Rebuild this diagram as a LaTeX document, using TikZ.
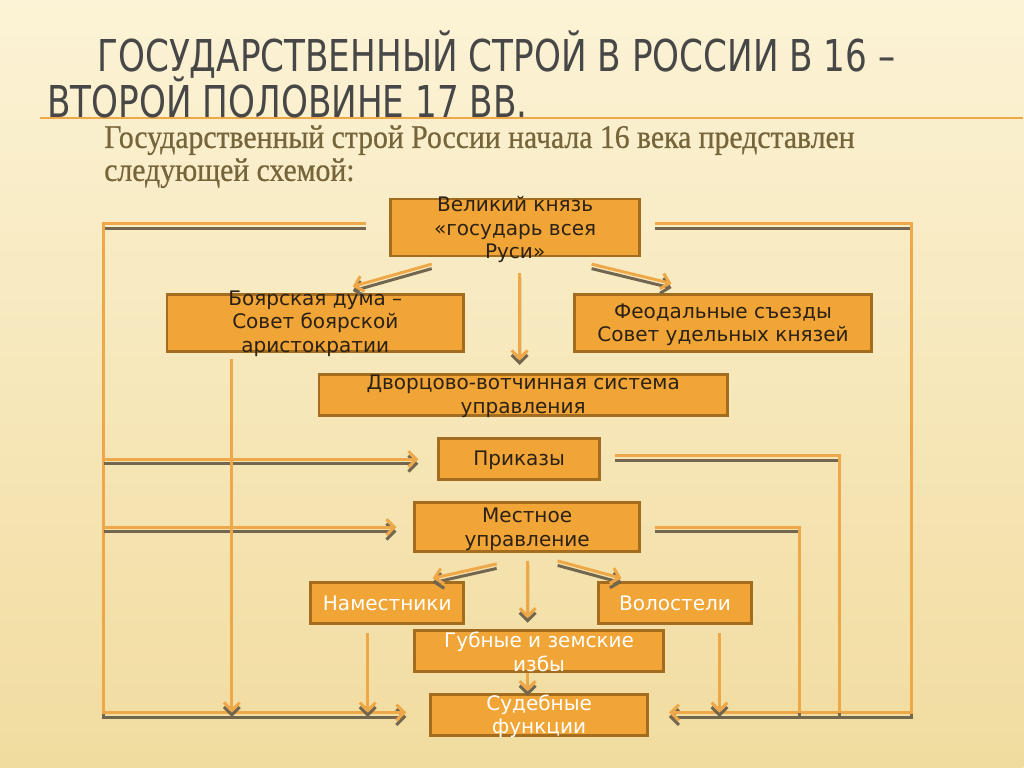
\documentclass[tikz,border=0pt]{standalone}
\usepackage{fontspec}
\setmainfont{DejaVu Sans}
\newfontfamily\titlefont[FakeStretch=0.78]{DejaVu Sans}
\newfontfamily\subfont[FakeStretch=0.9,FakeBold=0.6]{Liberation Serif}
\usetikzlibrary{calc,arrows.meta}
\definecolor{bgtop}{HTML}{FCF3D6}
\definecolor{bgbot}{HTML}{F1DC9F}
\definecolor{boxfill}{HTML}{F0A536}
\definecolor{boxline}{HTML}{A36C1E}
\definecolor{goldln}{HTML}{EFA848}
\definecolor{shadln}{HTML}{72664E}
\definecolor{titlegray}{HTML}{474747}
\definecolor{subbrown}{HTML}{76643A}
\definecolor{darktext}{HTML}{2B2116}
\tikzset{
  box/.style={draw=boxline, line width=1.5pt, fill=boxfill, inner sep=0pt},
  txt/.style={align=center, font=\fontsize{11.4}{13.4}\selectfont, text=darktext, inner sep=0pt},
  wtxt/.style={txt, text=white},
  goldline/.style={draw=goldln, line width=1.7pt},
  shadline/.style={draw=shadln, line width=1.7pt, transform canvas={yshift=-0.09cm}},
}
% double connector: shadow first, then gold line
\newcommand\dline[2][]{\draw[shadline,#1] #2; \draw[goldline,#1] #2;}
\begin{document}
\begin{tikzpicture}[x=0.02cm, y=-0.02cm, >={Straight Barb[length=4.5pt,width=9pt]}]
  \shade[top color=bgtop, bottom color=bgbot] (0,0) rectangle (1024,768);
  \draw[goldln, line width=0.8pt] (40,118) -- (1024,118);
  % titles
  \node[anchor=base west, inner sep=0, text=titlegray, font=\titlefont\fontsize{25}{30}\selectfont] (title1) at (97,72) {ГОСУДАРСТВЕННЫЙ СТРОЙ В РОССИИ В 16 –};
  \node[anchor=base west, inner sep=0, text=titlegray, font=\titlefont\fontsize{25}{30}\selectfont] (title2) at (47,118) {ВТОРОЙ ПОЛОВИНЕ 17 ВВ.};
  \node[anchor=base west, inner sep=0, text=subbrown, font=\subfont\fontsize{18.8}{22}\selectfont] (sub1) at (104,148) {Государственный строй России начала 16 века представлен};
  \node[anchor=base west, inner sep=0, text=subbrown, font=\subfont\fontsize{18.8}{22}\selectfont] (sub2) at (104,181) {следующей схемой:};
  % boxes
  \node[box, minimum width=4.98cm, minimum height=1.14cm] (vk) at (515.5,227.5) {};
  \node[box, minimum width=5.94cm, minimum height=1.14cm] (bd) at (315.5,323.5) {};
  \node[box, minimum width=5.94cm, minimum height=1.14cm] (fs) at (723.5,323.5) {};
  \node[box, minimum width=8.18cm, minimum height=0.82cm] (dv) at (523.5,395.5) {};
  \node[box, minimum width=3.22cm, minimum height=0.82cm] (pr) at (519.5,459.5) {};
  \node[box, minimum width=4.5cm, minimum height=0.98cm] (mu) at (527.5,527.5) {};
  \node[box, minimum width=3.06cm, minimum height=0.82cm] (nm) at (387.5,603.5) {};
  \node[box, minimum width=3.06cm, minimum height=0.82cm] (vl) at (675.5,603.5) {};
  \node[box, minimum width=4.98cm, minimum height=0.82cm] (gz) at (539.5,651.5) {};
  \node[box, minimum width=4.34cm, minimum height=0.82cm] (sf) at (539.5,715.5) {};
  % frame corners
  \coordinate (tl) at (104,224);
  \coordinate (bl) at (104,713);
  \coordinate (tr) at (912,224);
  \coordinate (br) at (912,713);
  \coordinate (r1) at (840,713);
  \coordinate (r2) at (800,713);
  % frame lines
  \dline[->]{($(vk.west)+(-23,-3.5)$) -- (tl) -- (bl) -- ($(sf.west)+(-23,-2.5)$)}
  \dline[->]{($(vk.east)+(14,-3.5)$) -- (tr) -- (br) -- ($(sf.east)+(20,-2.5)$)}
  \dline[->]{(tl |- pr.west) -- ($(pr.west)+(-19,0)$)}
  \dline[->]{(tl |- mu.west) -- ($(mu.west)+(-17,0)$)}
  \dline{($(pr.east)+(14,-3.5)$) -| (r1)}
  \dline{($(mu.east)+(14,0)$) -| (r2)}
  % from the grand prince
  \dline[->]{($(vk.south)+(-83.5,7)$) -- ($(bd.north)+(37.5,-7)$)}
  \dline[->]{($(vk.south)+(76.5,7)$) -- ($(fs.north)+(-51.5,-10)$)}
  \dline[->]{($(vk.south)+(4.5,16)$) -- ($(dv.north)+(-3.5,-13)$)}
  % down to the bottom line
  \path ($(bd.south)+(-83.5,6)$) coordinate (bdo);
  \path ($(nm.south)+(-19.5,8)$) coordinate (nmo);
  \path ($(vl.south)+(44.5,8)$) coordinate (vlo);
  \dline[->]{(bdo) -- (bdo |- bl)}
  \dline[->]{(nmo) -- (nmo |- bl)}
  \dline[->]{(vlo) -- (vlo |- bl)}
  % local government
  \dline[->]{($(mu.south)+(-30.5,11)$) -- ($(nm.north)+(45.5,-3)$)}
  \dline[->]{($(mu.south)+(30.5,8)$) -- ($(vl.north)+(-53.5,-3)$)}
  \dline[->]{($(mu.south)+(0.5,8)$) -- ($(gz.north)+(-11.5,-11)$)}
  \dline[->]{($(gz.south)+(-11.5,0)$) -- ($(sf.north)+(-11.5,-2)$)}
  % texts
  \node[txt] (vk-t) at ($(vk)+(0,2.5)$) {Великий князь\\«государь всея\\Руси»};
  \node[txt] (bd-t) at ($(bd)+(0,0.5)$) {Боярская дума –\\Совет боярской\\аристократии};
  \node[txt] (fs-t) at ($(fs)+(0,1.5)$) {Феодальные съезды\\Совет удельных князей};
  \node[txt] (dv-t) at ($(dv)+(0,1)$) {Дворцово-вотчинная система\\управления};
  \node[txt] (pr-t) at ($(pr)+(0,1.5)$) {Приказы};
  \node[txt] (mu-t) at ($(mu)+(0,2)$) {Местное\\управление};
  \node[wtxt] (nm-t) at ($(nm)+(0,0.5)$) {Наместники};
  \node[wtxt] (vl-t) at ($(vl)+(0,0.5)$) {Волостели};
  \node[wtxt] (gz-t) at ($(gz)+(0,1)$) {Губные и земские\\избы};
  \node[wtxt] (sf-t) at ($(sf)+(0,1.5)$) {Судебные\\функции};
\end{tikzpicture}
\end{document}
